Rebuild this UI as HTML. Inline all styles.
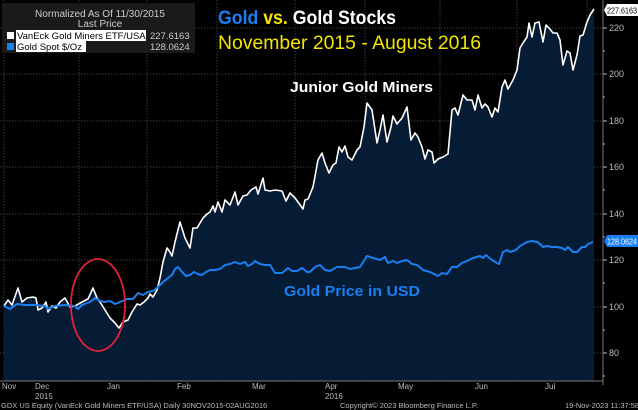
<!DOCTYPE html>
<html><head><meta charset="utf-8"><style>
html,body{margin:0;padding:0;background:#000;}
svg{display:block}
text{font-family:"Liberation Sans",sans-serif}
</style></head><body>
<svg width="638" height="410" viewBox="0 0 638 410" xmlns="http://www.w3.org/2000/svg">
<rect width="638" height="410" fill="#000"/>
<g stroke="#3a3a3a" stroke-width="1" stroke-dasharray="1.5,1.5" fill="none">
<line x1="0" y1="28" x2="603" y2="28"/><line x1="0" y1="74" x2="603" y2="74"/><line x1="0" y1="121" x2="603" y2="121"/><line x1="0" y1="167" x2="603" y2="167"/><line x1="0" y1="214" x2="603" y2="214"/><line x1="0" y1="260" x2="603" y2="260"/><line x1="0" y1="307" x2="603" y2="307"/><line x1="0" y1="353" x2="603" y2="353"/>
<line x1="4" y1="0" x2="4" y2="381"/><line x1="79" y1="0" x2="79" y2="381"/><line x1="147" y1="0" x2="147" y2="381"/><line x1="217" y1="0" x2="217" y2="381"/><line x1="295" y1="0" x2="295" y2="381"/><line x1="365" y1="0" x2="365" y2="381"/><line x1="440" y1="0" x2="440" y2="381"/><line x1="517" y1="0" x2="517" y2="381"/><line x1="587" y1="0" x2="587" y2="381"/>
</g>
<path fill="#061d38" fill-opacity="0.92" d="M4,381 L4,306 L8,300 L12,305 L18,288 L22,302 L27,298 L33,297 L36,298 L38,310 L42,308 L46,302 L48,312 L52,306 L56,308 L60,302 L65,298 L70,307 L75,306 L82,302 L88,299 L93,288 L97,298 L100,302 L105,310 L110,318 L115,323 L119,328 L123,322 L128,320 L132,312 L137,304 L140,305 L144,302 L148,298 L150,294 L153,297 L157,290 L160,278 L163,262 L167,248 L170,252 L172,256 L175,242 L180,222 L185,238 L190,248 L193,228 L197,228 L203,218 L207,214 L210,212 L213,206 L215,212 L218,202 L222,212 L225,200 L230,205 L235,192 L238,205 L243,196 L247,195 L251,190 L256,187 L258,194 L263,178 L265,190 L270,191 L275,190 L282,191 L286,201 L290,193 L295,198 L298,202 L303,209 L305,200 L308,199 L313,187 L318,160 L322,153 L325,163 L329,173 L333,165 L336,163 L339,147 L342,152 L345,146 L348,157 L352,160 L357,150 L360,147 L364,127 L367,103 L372,110 L377,143 L380,130 L383,115 L387,142 L391,127 L393,116 L397,124 L402,118 L407,107 L411,140 L415,133 L418,137 L422,147 L425,159 L428,150 L432,152 L434,163 L438,159 L443,157 L448,154 L452,110 L455,108 L458,115 L463,95 L467,100 L472,100 L475,110 L478,95 L482,108 L485,104 L488,107 L492,117 L495,108 L498,112 L502,87 L505,80 L508,89 L513,80 L517,70 L520,48 L523,43 L527,37 L529,23 L532,37 L535,23 L539,22 L543,42 L546,25 L550,29 L553,33 L557,33 L560,40 L563,65 L567,51 L570,53 L573,70 L577,55 L580,36 L583,35 L587,22 L590,15 L594,9 L594,381 Z"/>
<path fill="none" stroke="#fff" stroke-width="1.6" stroke-linejoin="round" d="M4,306 L8,300 L12,305 L18,288 L22,302 L27,298 L33,297 L36,298 L38,310 L42,308 L46,302 L48,312 L52,306 L56,308 L60,302 L65,298 L70,307 L75,306 L82,302 L88,299 L93,288 L97,298 L100,302 L105,310 L110,318 L115,323 L119,328 L123,322 L128,320 L132,312 L137,304 L140,305 L144,302 L148,298 L150,294 L153,297 L157,290 L160,278 L163,262 L167,248 L170,252 L172,256 L175,242 L180,222 L185,238 L190,248 L193,228 L197,228 L203,218 L207,214 L210,212 L213,206 L215,212 L218,202 L222,212 L225,200 L230,205 L235,192 L238,205 L243,196 L247,195 L251,190 L256,187 L258,194 L263,178 L265,190 L270,191 L275,190 L282,191 L286,201 L290,193 L295,198 L298,202 L303,209 L305,200 L308,199 L313,187 L318,160 L322,153 L325,163 L329,173 L333,165 L336,163 L339,147 L342,152 L345,146 L348,157 L352,160 L357,150 L360,147 L364,127 L367,103 L372,110 L377,143 L380,130 L383,115 L387,142 L391,127 L393,116 L397,124 L402,118 L407,107 L411,140 L415,133 L418,137 L422,147 L425,159 L428,150 L432,152 L434,163 L438,159 L443,157 L448,154 L452,110 L455,108 L458,115 L463,95 L467,100 L472,100 L475,110 L478,95 L482,108 L485,104 L488,107 L492,117 L495,108 L498,112 L502,87 L505,80 L508,89 L513,80 L517,70 L520,48 L523,43 L527,37 L529,23 L532,37 L535,23 L539,22 L543,42 L546,25 L550,29 L553,33 L557,33 L560,40 L563,65 L567,51 L570,53 L573,70 L577,55 L580,36 L583,35 L587,22 L590,15 L594,9"/>
<path fill="none" stroke="#1a7ff0" stroke-width="2" stroke-linejoin="round" d="M4,306 L10,309 L17,304 L25,305 L35,305 L45,306 L48,309 L55,306 L65,305 L75,306 L78,309 L82,305 L90,302 L95,298 L100,301 L105,302 L110,301 L115,304 L120,302 L127,299 L133,299 L138,293 L143,295 L148,292 L153,291 L158,287 L162,283 L168,278 L172,275 L175,269 L178,267 L182,272 L186,276 L190,275 L194,272 L198,274 L202,275 L206,272 L210,270 L215,270 L220,269 L225,265 L230,264 L235,262 L240,264 L245,262 L248,266 L252,264 L255,261 L260,264 L265,265 L270,265 L275,273 L282,273 L288,268 L292,271 L297,271 L302,268 L307,272 L310,272 L315,267 L320,265 L325,270 L330,271 L337,267 L340,267 L345,267 L350,269 L360,267 L367,256 L373,258 L380,260 L385,257 L388,263 L393,261 L397,263 L402,261 L407,260 L412,264 L417,265 L423,270 L430,272 L438,276 L442,273 L447,274 L452,267 L457,267 L462,263 L467,261 L473,258 L480,256 L483,258 L486,255 L492,260 L497,263 L499,264 L503,252 L507,250 L510,252 L516,250 L520,246 L527,242 L532,241 L537,242 L540,244 L543,247 L547,246 L552,247 L557,247 L562,248 L565,250 L568,247 L573,252 L577,252 L582,247 L585,247 L588,244 L593,242"/>
<ellipse cx="98" cy="305" rx="27" ry="46" fill="none" stroke="#e0223a" stroke-width="1.8"/>
<line x1="603" y1="0" x2="603" y2="385" stroke="#777" stroke-width="1"/>
<g fill="#bbb" font-size="9">
<g stroke="#bbb"><line x1="603" y1="28" x2="607" y2="28"/><line x1="603" y1="74" x2="607" y2="74"/><line x1="603" y1="121" x2="607" y2="121"/><line x1="603" y1="167" x2="607" y2="167"/><line x1="603" y1="214" x2="607" y2="214"/><line x1="603" y1="260" x2="607" y2="260"/><line x1="603" y1="307" x2="607" y2="307"/><line x1="603" y1="353" x2="607" y2="353"/>
<line x1="603" y1="51" x2="605" y2="51"/><line x1="603" y1="97" x2="605" y2="97"/><line x1="603" y1="144" x2="605" y2="144"/><line x1="603" y1="190" x2="605" y2="190"/><line x1="603" y1="237" x2="605" y2="237"/><line x1="603" y1="283" x2="605" y2="283"/><line x1="603" y1="330" x2="605" y2="330"/><line x1="603" y1="376" x2="605" y2="376"/></g>
<text x="609" y="31">220</text><text x="609" y="77">200</text><text x="609" y="124">180</text><text x="609" y="170">160</text><text x="609" y="217">140</text><text x="609" y="263">120</text><text x="609" y="310">100</text><text x="609" y="356">80</text>
</g>
<path d="M604,10 L607,4 L638,4 L638,16 L607,16 Z" fill="#fff"/>
<text x="607" y="13.5" font-size="8" fill="#000" textLength="30" lengthAdjust="spacingAndGlyphs">227.6163</text>
<path d="M604,241 L607,235 L638,235 L638,247 L607,247 Z" fill="#1a7ff0"/>
<text x="607" y="244.5" font-size="8" fill="#fff" textLength="30" lengthAdjust="spacingAndGlyphs">128.0624</text>
<line x1="0" y1="381" x2="603" y2="381" stroke="#777"/>
<g fill="#bbb" font-size="8">
<text x="2" y="389">Nov</text><text x="35" y="389">Dec</text><text x="35" y="399">2015</text><text x="107" y="389">Jan</text><text x="177" y="389">Feb</text><text x="252" y="389">Mar</text><text x="325" y="389">Apr</text><text x="325" y="399">2016</text><text x="398" y="389">May</text><text x="475" y="389">Jun</text><text x="545" y="389">Jul</text>
<text x="1" y="408" font-size="7.5">GDX US Equity (VanEck Gold Miners ETF/USA)  Daily 30NOV2015-02AUG2016</text>
<text x="340" y="408" font-size="7.5">Copyright© 2023 Bloomberg Finance L.P.</text>
<text x="565" y="408" font-size="7.5">19-Nov-2023 11:37:58</text>
</g>
<rect x="2" y="3" width="193" height="50" fill="#1a1a1a"/>
<text x="100" y="17" font-size="10" fill="#ccc" text-anchor="middle">Normalized As Of 11/30/2015</text>
<text x="100" y="27" font-size="10" fill="#ccc" text-anchor="middle">Last Price</text>
<rect x="7" y="32" width="7" height="7" fill="#fff"/>
<rect x="16" y="30" width="130" height="11" fill="#fff"/>
<text x="17" y="39" font-size="9.5" fill="#000">VanEck Gold Miners ETF/USA</text>
<text x="150" y="39" font-size="9.5" fill="#ccc">227.6163</text>
<rect x="7" y="43" width="7" height="7" fill="#1a7ff0"/>
<rect x="16" y="41" width="70" height="11" fill="#fff"/>
<text x="17" y="50" font-size="9.5" fill="#000">Gold Spot $/Oz</text>
<text x="150" y="50" font-size="9.5" fill="#ccc">128.0624</text>
<text x="218" y="24" font-size="19" font-weight="bold" textLength="178" lengthAdjust="spacingAndGlyphs"><tspan fill="#1a7ff0">Gold</tspan><tspan fill="#f3e600"> vs.</tspan><tspan fill="#fff"> Gold Stocks</tspan></text>
<text x="218" y="49" font-size="19" fill="#f3e600" textLength="263" lengthAdjust="spacingAndGlyphs">November 2015 - August 2016</text>
<text x="290" y="92" font-size="15" font-weight="bold" fill="#fff" textLength="143" lengthAdjust="spacingAndGlyphs">Junior Gold Miners</text>
<text x="284" y="296" font-size="15" font-weight="bold" fill="#1a7ff0" textLength="136" lengthAdjust="spacingAndGlyphs">Gold Price in USD</text>
</svg>
</body></html>
